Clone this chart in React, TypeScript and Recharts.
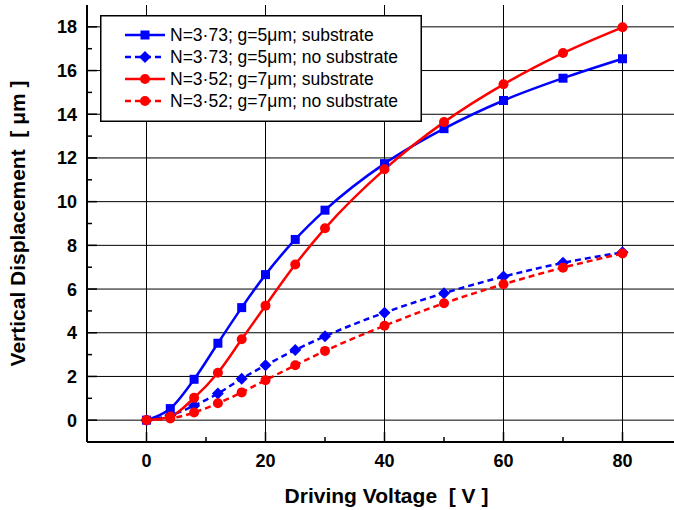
import {
  LineChart,
  Line,
  XAxis,
  YAxis,
  CartesianGrid,
  Legend,
} from "recharts";

const voltage = [0, 4, 8, 12, 16, 20, 25, 30, 40, 50, 60, 70, 80];
const blueSubstrate = [0, 0.53, 1.87, 3.52, 5.15, 6.66, 8.27, 9.61, 11.74, 13.34, 14.63, 15.65, 16.54];
const blueNoSubstrate = [0, 0.22, 0.66, 1.22, 1.9, 2.51, 3.21, 3.84, 4.92, 5.81, 6.57, 7.2, 7.68];
const redSubstrate = [0, 0.17, 1.02, 2.17, 3.7, 5.24, 7.12, 8.78, 11.48, 13.64, 15.37, 16.8, 17.98];
const redNoSubstrate = [0, 0.08, 0.35, 0.77, 1.27, 1.83, 2.51, 3.17, 4.32, 5.35, 6.22, 6.98, 7.63];

const seriesNames = [
  "N=3\u00b773; g=5\u03bcm; substrate",
  "N=3\u00b773; g=5\u03bcm; no substrate",
  "N=3\u00b752; g=7\u03bcm; substrate",
  "N=3\u00b752; g=7\u03bcm; no substrate",
];

const xTicks = [0, 10, 20, 30, 40, 50, 60, 70, 80];
const xMajor = [0, 20, 40, 60, 80];
const yTicks = [0, 1, 2, 3, 4, 5, 6, 7, 8, 9, 10, 11, 12, 13, 14, 15, 16, 17, 18];
const yMajor = [0, 2, 4, 6, 8, 10, 12, 14, 16, 18];

const data = voltage.map((v, i) => ({
  v,
  bs: blueSubstrate[i],
  bn: blueNoSubstrate[i],
  rs: redSubstrate[i],
  rn: redNoSubstrate[i],
}));

const FONT = "'Liberation Sans', Arial, sans-serif";
const BLUE = "#0000ff";
const RED = "#ff0000";

const SquareDot = (p: any) => {
  const { cx, cy, fill } = p;
  if (cx == null || cy == null) return null;
  return <rect x={cx - 4.5} y={cy - 4.5} width={9} height={9} fill={fill} />;
};

const DiamondDot = (p: any) => {
  const { cx, cy, fill } = p;
  if (cx == null || cy == null) return null;
  const r = 6;
  return (
    <polygon
      points={`${cx},${cy - r} ${cx + r},${cy} ${cx},${cy + r} ${cx - r},${cy}`}
      fill={fill}
    />
  );
};

const CircleDot = (p: any) => {
  const { cx, cy, fill } = p;
  if (cx == null || cy == null) return null;
  return <circle cx={cx} cy={cy} r={5} fill={fill} />;
};

const BottomTick = (p: any) => {
  const { x, y, payload } = p;
  const major = xMajor.includes(payload.value);
  return (
    <g>
      <line x1={x} x2={x} y1={y} y2={y - (major ? 10 : 5)} stroke="#000" strokeWidth={1.5} />
      {major && (
        <text x={x} y={y + 25} textAnchor="middle" fontFamily={FONT} fontWeight="bold" fontSize={18} fill="#000">
          {payload.value}
        </text>
      )}
    </g>
  );
};

const TopTick = (p: any) => {
  const { x, y, payload } = p;
  const major = xMajor.includes(payload.value);
  return <line x1={x} x2={x} y1={y} y2={y + (major ? 10 : 5)} stroke="#000" strokeWidth={1.5} />;
};

const LeftTick = (p: any) => {
  const { x, y, payload } = p;
  const major = yMajor.includes(payload.value);
  return (
    <g>
      <line x1={x} x2={x + (major ? 10 : 5)} y1={y} y2={y} stroke="#000" strokeWidth={1.5} />
      {major && (
        <text x={x - 10} y={y} dy="0.36em" textAnchor="end" fontFamily={FONT} fontWeight="bold" fontSize={18} fill="#000">
          {payload.value}
        </text>
      )}
    </g>
  );
};

const RightTick = (p: any) => {
  const { x, y, payload } = p;
  const major = yMajor.includes(payload.value);
  return <line x1={x} x2={x - (major ? 10 : 5)} y1={y} y2={y} stroke="#000" strokeWidth={1.5} />;
};

const XTitle = (p: any) => {
  const vb = p.viewBox || {};
  return (
    <text x={vb.x + vb.width / 2 + 2} y={503} textAnchor="middle" fontFamily={FONT} fontWeight="bold" fontSize={21} fill="#000" style={{ whiteSpace: "pre" }}>
      {"Driving Voltage  [ V ]"}
    </text>
  );
};

const YTitle = (p: any) => {
  const vb = p.viewBox || {};
  const cy = vb.y + vb.height / 2;
  return (
    <text x={25} y={cy} transform={`rotate(-90 25 ${cy})`} textAnchor="middle" fontFamily={FONT} fontWeight="bold" fontSize={21} fill="#000" style={{ whiteSpace: "pre" }}>
      {"Vertical Displacement  [ \u03bcm ]"}
    </text>
  );
};

const legendItems = [
  { name: seriesNames[0], color: BLUE, dash: undefined, Marker: SquareDot },
  { name: seriesNames[1], color: BLUE, dash: "6 4", Marker: DiamondDot },
  { name: seriesNames[2], color: RED, dash: undefined, Marker: CircleDot },
  { name: seriesNames[3], color: RED, dash: "6 4", Marker: CircleDot },
];

const LegendBox = () => (
  <svg width={322} height={107} style={{ display: "block" }}>
    <rect x={0.75} y={0.75} width={320.5} height={105.5} fill="#fff" stroke="#000" strokeWidth={1.5} />
    {legendItems.map((it, i) => {
      const y = 20 + i * 22;
      return (
        <g key={i}>
          <line x1={25} x2={65} y1={y} y2={y} stroke={it.color} strokeWidth={2.5} strokeDasharray={it.dash} />
          <it.Marker cx={45} cy={y} fill={it.color} />
          <text x={70} y={y} dy="0.36em" fontFamily={FONT} fontSize={17.5} fill="#000">
            {it.name}
          </text>
        </g>
      );
    })}
  </svg>
);

export default function App() {
  return (
    <div style={{ position: "fixed", left: 0, top: 0, width: 674, height: 510, overflow: "hidden", background: "#fff" }}>
      <LineChart width={700} height={510} data={data} margin={{ top: 5, right: 18, left: 0, bottom: 0 }}>
        <CartesianGrid
          stroke="#000"
          strokeWidth={1}
          horizontalValues={yMajor}
          verticalValues={xMajor}
        />
        <XAxis
          dataKey="v"
          type="number"
          domain={[-10, 90]}
          ticks={xTicks}
          interval={0}
          height={68}
          tickSize={0}
          tickMargin={0}
          tickLine={false}
          axisLine={{ stroke: "#000", strokeWidth: 2 }}
          tick={<BottomTick />}
          label={<XTitle />}
        />
        <XAxis
          xAxisId="top"
          orientation="top"
          dataKey="v"
          type="number"
          domain={[-10, 90]}
          ticks={xTicks}
          interval={0}
          height={0}
          tickSize={0}
          tickMargin={0}
          tickLine={false}
          axisLine={{ stroke: "#000", strokeWidth: 2 }}
          tick={<TopTick />}
        />
        <YAxis
          type="number"
          domain={[-1, 19]}
          ticks={yTicks}
          interval={0}
          width={87}
          tickSize={0}
          tickMargin={0}
          tickLine={false}
          axisLine={{ stroke: "#000", strokeWidth: 2 }}
          tick={<LeftTick />}
          label={<YTitle />}
        />
        <YAxis
          yAxisId="right"
          orientation="right"
          type="number"
          domain={[-1, 19]}
          ticks={yTicks}
          interval={0}
          width={0}
          tickSize={0}
          tickMargin={0}
          tickLine={false}
          axisLine={{ stroke: "#000", strokeWidth: 2 }}
          tick={<RightTick />}
        />
        <Legend
          layout="vertical"
          align="center"
          verticalAlign="middle"
          content={<LegendBox />}
          wrapperStyle={{ left: 100, top: 15, width: 322, height: 107 }}
        />
        <Line type="monotone" dataKey="bn" name={seriesNames[1]} stroke={BLUE} strokeWidth={2.5} strokeDasharray="6 4" dot={<DiamondDot fill={BLUE} />} isAnimationActive={false} />
        <Line type="monotone" dataKey="rn" name={seriesNames[3]} stroke={RED} strokeWidth={2.5} strokeDasharray="6 4" dot={<CircleDot fill={RED} />} isAnimationActive={false} />
        <Line type="monotone" dataKey="bs" name={seriesNames[0]} stroke={BLUE} strokeWidth={2.5} dot={<SquareDot fill={BLUE} />} isAnimationActive={false} />
        <Line type="monotone" dataKey="rs" name={seriesNames[2]} stroke={RED} strokeWidth={2.5} dot={<CircleDot fill={RED} />} isAnimationActive={false} />
      </LineChart>
    </div>
  );
}
